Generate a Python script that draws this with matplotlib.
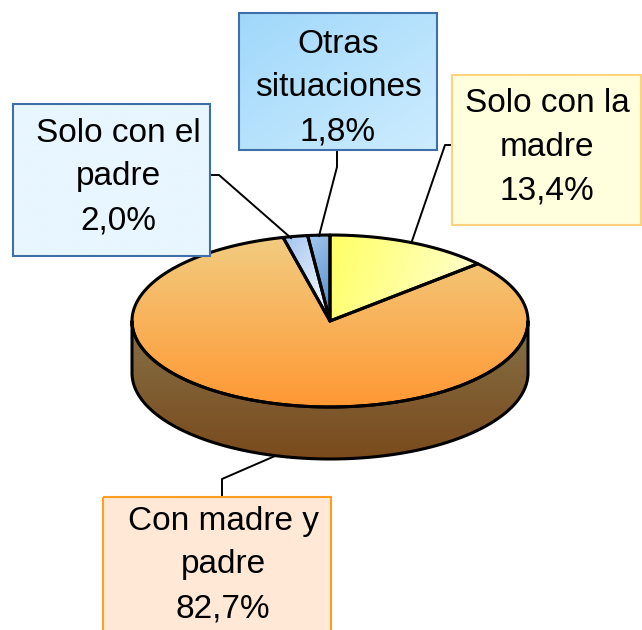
import numpy as np
import matplotlib.pyplot as plt
from matplotlib.patches import Polygon, Rectangle

plt.rcParams['font.family'] = ['Liberation Sans', 'DejaVu Sans']

# datos del grafico (porcentaje de hogares)
labels = ['Solo con la\nmadre', 'Con madre y\npadre', 'Solo con el\npadre', 'Otras\nsituaciones']
values = [13.4, 82.7, 2.0, 1.8]
pct_text = [f"{v:.1f}".replace('.', ',') + '%' for v in values]

# geometria del "pastel 3D" (en pixeles)
cx, cy = 330, 321
rx, ry = 198, 86
depth = 52

fig = plt.figure(figsize=(6.42, 6.30), dpi=100)
ax = fig.add_axes([0, 0, 1, 1])


def arc(t0, t1, dy=0, n=200):
    t = np.linspace(t0, t1, n)
    return np.column_stack([cx + rx * np.sin(t), cy - ry * np.cos(t) + dy])


def grad_fill(patch, c0, c1, direction=(0, 1), z=2):
    # relleno degradado recortado al poligono
    path = patch.get_patch_transform().transform_path(patch.get_path())
    ext = path.get_extents()
    x0, y0, x1, y1 = ext.x0, ext.y0, ext.x1, ext.y1
    X, Y = np.meshgrid(np.linspace(0, 1, 200), np.linspace(0, 1, 200))
    d = np.array(direction, float)
    tt = X * d[0] + Y * d[1]
    tt = (tt - tt.min()) / (tt.max() - tt.min())
    c0 = np.array(c0) / 255.0
    c1 = np.array(c1) / 255.0
    img = c0[None, None, :] + (c1 - c0)[None, None, :] * tt[:, :, None]
    im = ax.imshow(img, extent=(x0, x1, y1, y0), aspect='auto', zorder=z,
                   interpolation='bilinear')
    im.set_clip_path(patch)


total = sum(values)
bounds = np.concatenate([[0], np.cumsum(values)]) / total * 2 * np.pi

# lado visible (solo la porcion frontal de "Con madre y padre")
s0, s1 = max(bounds[1], np.pi / 2), min(bounds[2], 3 * np.pi / 2)
side = np.vstack([arc(s0, s1), arc(s1, s0, dy=depth)])
side_patch = Polygon(side, closed=True, facecolor='none', edgecolor='none', zorder=1)
ax.add_patch(side_patch)
grad_fill(side_patch, (133, 113, 72), (122, 74, 28), (0, 1), z=1)
ax.add_patch(Polygon(side, closed=True, facecolor='none', edgecolor='black',
                     lw=2.2, zorder=3, joinstyle='round'))

# caras superiores de cada porcion
top_colors = [
    ((255, 255, 100), (255, 255, 215), (1, 0.2)),
    ((242, 204, 128), (255, 152, 52), (0, 1)),
    ((160, 195, 240), (255, 255, 255), (1, 1)),
    ((165, 200, 240), (75, 135, 200), (0.3, 1)),
]
for i in range(len(values)):
    pts = np.vstack([[cx, cy], arc(bounds[i], bounds[i + 1])])
    p = Polygon(pts, closed=True, facecolor='none', edgecolor='none', zorder=2)
    ax.add_patch(p)
    c0, c1, dr = top_colors[i]
    grad_fill(p, c0, c1, dr, z=2)
    ax.add_patch(Polygon(pts, closed=True, facecolor='none', edgecolor='black',
                         lw=2.2, zorder=4, joinstyle='round'))

# cajas de etiquetas: (x0, y0, x1, y1), relleno, borde, centro del texto
boxes = [
    ((452, 75, 641, 225), ((255, 255, 221), (255, 255, 221)), '#FFD27F', (547, 147)),
    ((103, 497, 331, 645), ((255, 233, 214), (255, 233, 214)), '#FF9E1F', (223, 565)),
    ((13, 104, 210, 256), ((232, 246, 255), (232, 246, 255)), '#3F6FA8', (118, 177)),
    ((239, 13, 437, 150), ((160, 216, 250), (205, 236, 255)), '#3F6FA8', (338, 88)),
]
for i, (b, fill, edge, tc) in enumerate(boxes):
    x0, y0, x1, y1 = b
    r = Rectangle((x0, y0), x1 - x0, y1 - y0, facecolor='none', edgecolor='none', zorder=5)
    ax.add_patch(r)
    grad_fill(r, fill[0], fill[1], (1, 1), z=5)
    ax.add_patch(Rectangle((x0, y0), x1 - x0, y1 - y0, facecolor='none',
                           edgecolor=edge, lw=1.5, zorder=6))
    ax.text(tc[0], tc[1], labels[i] + '\n' + pct_text[i], ha='center', va='center',
            fontsize=24, linespacing=1.53, zorder=7)

# lineas guia
leaders = [
    [(452, 145), (445, 145), (412, 241)],
    [(222, 497), (222, 479), (275, 456)],
    [(210, 175), (219, 175), (291, 238)],
    [(337, 152), (337, 167), (319, 236)],
]
for ln in leaders:
    ln = np.array(ln)
    ax.plot(ln[:, 0], ln[:, 1], color='black', lw=1.4, zorder=4.5)

ax.set_xlim(0, 642)
ax.set_ylim(630, 0)
ax.axis('off')
fig.savefig('out.png', dpi=100)
